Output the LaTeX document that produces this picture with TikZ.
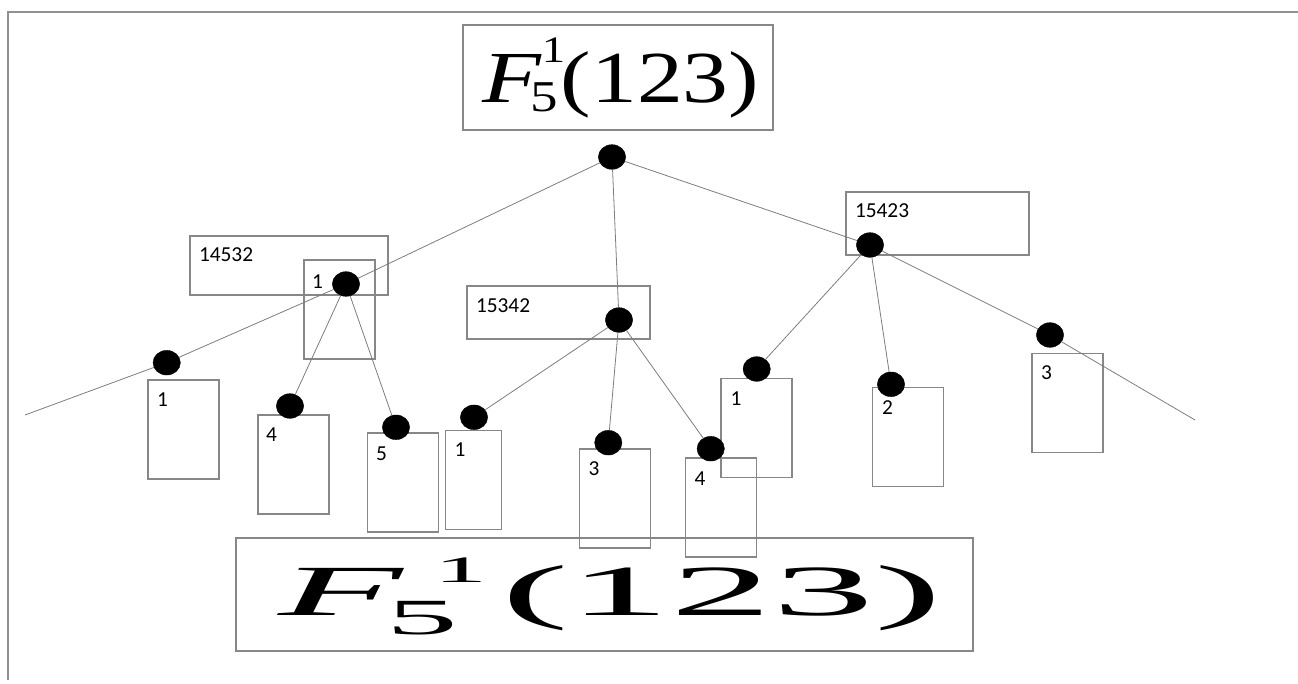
\documentclass[tikz,border=0pt]{standalone}
\usepackage{fontspec}
\setmainfont{Liberation Serif}
\newfontfamily\lblfont{Carlito}
\usetikzlibrary{shapes.geometric}
\definecolor{edgegray}{RGB}{125,125,125}
\definecolor{boxgray}{RGB}{135,135,135}
\definecolor{framegray}{RGB}{145,145,145}
\tikzset{
  dot/.style={ellipse, fill=black, draw=black, line width=0.3pt, minimum width=20.5pt, minimum height=18.5pt, inner sep=0pt},
  bx/.style={draw=boxgray, line width=0.9pt, inner sep=0pt, outer sep=0pt},
  lbl/.style={anchor=base west, inner sep=0pt, outer sep=0pt, font=\lblfont\fontsize{16}{16}\selectfont},
  edge/.style={draw=edgegray, line width=0.6pt},
  leaf/.style={bx, minimum width=53.25pt, minimum height=74.25pt},
  formula/.style={anchor=base west, inner sep=0pt, outer sep=0pt},
}
\newcommand\topformula{\scalebox{1.25}[1]{\fontsize{55}{55}\selectfont%
\rlap{\scalebox{1.05}[1]{\textit{F}}}%
\rlap{\hspace{35.9pt}\raisebox{30pt}{\fontsize{28}{28}\selectfont 1}}%
\rlap{\hspace{28.8pt}\raisebox{-6.75pt}{\fontsize{33}{33}\selectfont 5}}%
\hspace{47.2pt}(123)}}
\newcommand\botformula{\scalebox{2.83}[1]{\fontsize{54}{54}\selectfont%
\rlap{\textit{F}}%
\rlap{\hspace{41.4pt}\raisebox{24.75pt}{\fontsize{28}{28}\selectfont 1}}%
\rlap{\hspace{28.7pt}\raisebox{-14.3pt}{\fontsize{38}{38}\selectfont 5}}%
\hspace{59.1pt}(123)}}
\begin{document}
\begin{tikzpicture}[x=0.75pt,y=-0.75pt]
\useasboundingbox (0,0) rectangle (1298,684);
% frame
\draw[framegray, line width=1.5pt] (7.5,680) -- (7.5,12) -- (1298,12);
% boxes
\node[bx, minimum width=232.5pt, minimum height=78.75pt] (titlebox) at (618,77.5) {};
\node[bx, minimum width=552.75pt, minimum height=84.75pt] (bottombox) at (604.5,594.5) {};
\node[bx, minimum width=148.5pt, minimum height=44.25pt] (Abox) at (289,265.5) {};
\node[bx, minimum width=53.25pt, minimum height=74.25pt] (Ainner) at (339.5,309.5) {};
\node[bx, minimum width=137.25pt, minimum height=39.75pt] (Bbox) at (558.5,312.5) {};
\node[bx, minimum width=137.25pt, minimum height=47.25pt] (Cbox) at (937.5,223.5) {};
\node[leaf] (L1box) at (183.5,429.5) {};
\node[leaf] (L4box) at (293.5,464.5) {};
\node[leaf] (L5box) at (403,482.5) {};
\node[bx, minimum width=42.5pt, minimum height=74.25pt] (B1box) at (473.5,479.8) {};
\node[leaf] (B3box) at (615,498.5) {};
\node[leaf] (B4box) at (721,507.5) {};
\node[leaf] (C1box) at (756.5,427.7) {};
\node[leaf] (C2box) at (908,437) {};
\node[leaf] (C3box) at (1067.5,403) {};
% formulas
\node[formula] (topF) at (482,103) {\topformula};
\node[formula] (botF) at (278,615) {\botformula};
% dots
\node[dot] (root) at (612,157) {};
\node[dot] (A) at (346,284) {};
\node[dot] (Ld1) at (166.7,362.7) {};
\node[dot] (Ld4) at (290,406) {};
\node[dot] (Ld5) at (396,427.3) {};
\node[dot] (B) at (619,320) {};
\node[dot] (Bd1) at (474,417.3) {};
\node[dot] (Bd3) at (608.3,442.7) {};
\node[dot] (Bd4) at (710.7,448.7) {};
\node[dot] (C) at (870,245) {};
\node[dot] (Cd1) at (756.7,369) {};
\node[dot] (Cd2) at (891,384.3) {};
\node[dot] (Cd3) at (1050,335) {};
\coordinate (endL) at (25,415);
\coordinate (endR) at (1195,420);
% edges
\draw[edge] (root) -- (A);
\draw[edge] (A) -- (Ld1) -- (endL);
\draw[edge] (A) -- (Ld4);
\draw[edge] (A) -- (Ld5);
\draw[edge] (root) -- (B);
\draw[edge] (B) -- (Bd1);
\draw[edge] (B) -- (Bd3);
\draw[edge] (B) -- (Bd4);
\draw[edge] (root) -- (C);
\draw[edge] (C) -- (Cd1);
\draw[edge] (C) -- (Cd2);
\draw[edge] (C) -- (Cd3) -- (endR);
% labels
\node[lbl] (tA) at (199,261.7) {14532};
\node[lbl] (tA1) at (312,288) {1};
\node[lbl] (tB) at (476,312) {15342};
\node[lbl] (tC) at (855,218) {15423};
\node[lbl] (tL1) at (157,406.7) {1};
\node[lbl] (tL4) at (266,441.5) {4};
\node[lbl] (tL5) at (376,460.5) {5};
\node[lbl] (tB1) at (454.5,456.8) {1};
\node[lbl] (tB3) at (588.5,475.2) {3};
\node[lbl] (tB4) at (694.5,485.2) {4};
\node[lbl] (tC1) at (730.5,405.2) {1};
\node[lbl] (tC2) at (882,414.5) {2};
\node[lbl] (tC3) at (1041,379.2) {3};
\end{tikzpicture}
\end{document}
